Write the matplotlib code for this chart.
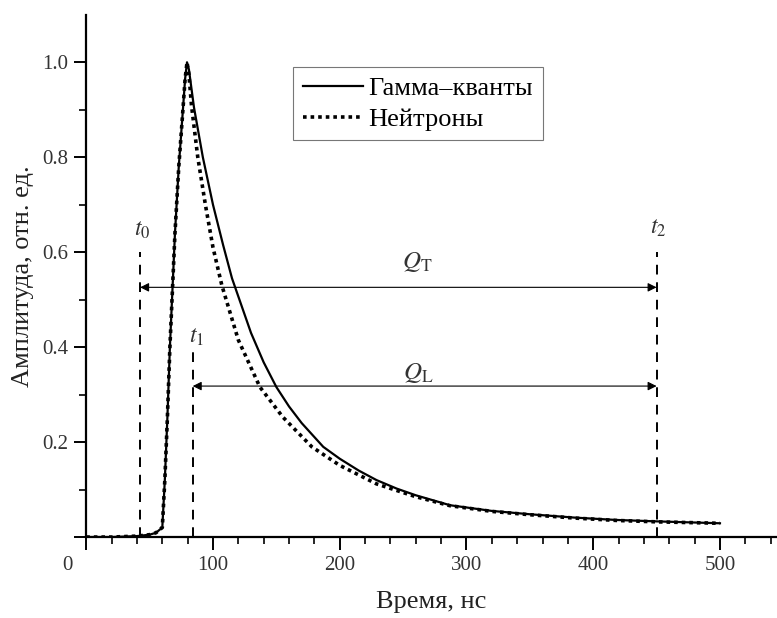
import matplotlib
matplotlib.use('Agg')
import matplotlib.pyplot as plt
import matplotlib.transforms as mtransforms
import numpy as np

plt.rcParams['font.family'] = ['Liberation Serif', 'DejaVu Serif']
plt.rcParams['mathtext.fontset'] = 'stix'

# Гамма-кванты (сплошная линия)
gamma_t = [0, 20, 40, 50, 55, 60, 62, 64, 66, 68, 70, 73, 76, 78, 79.5, 81,
           85, 92, 100, 108, 115, 130, 140, 150, 160, 170, 187, 200, 215, 229, 245, 260,
           287, 320, 350, 385, 418, 450, 500]
gamma_a = [0.0, 0.0, 0.002, 0.005, 0.009, 0.02, 0.12, 0.25, 0.40, 0.52, 0.64, 0.78, 0.89, 0.965, 1.0, 0.985,
           0.905, 0.80, 0.70, 0.615, 0.545, 0.43, 0.368, 0.316, 0.275, 0.24, 0.19, 0.165, 0.14, 0.12, 0.102, 0.088,
           0.067, 0.055, 0.048, 0.041, 0.036, 0.033, 0.029]

# Нейтроны (пунктир)
neutron_t = [0, 20, 40, 50, 55, 60, 62, 64, 66, 68, 70, 73, 76, 78, 79.5, 81,
             83, 88, 94, 100, 107, 120, 137, 155, 178, 200, 229, 260,
             287, 320, 350, 385, 418, 450, 500]
neutron_a = [0.0, 0.0, 0.002, 0.005, 0.009, 0.02, 0.12, 0.25, 0.40, 0.52, 0.64, 0.78, 0.89, 0.965, 1.0, 0.975,
             0.91, 0.80, 0.70, 0.61, 0.53, 0.415, 0.316, 0.253, 0.19, 0.151, 0.112, 0.085,
             0.066, 0.054, 0.047, 0.040, 0.035, 0.032, 0.029]

# границы интегрирования
t0, t1, t2 = 42.5, 84, 450
q_t_level, q_l_level = 0.526, 0.318

fig = plt.figure(figsize=(7.77, 6.18), dpi=100)
ax = fig.add_axes([0.111, 0.131, 0.889, 0.845])

ax.plot(gamma_t, gamma_a, color='black', lw=1.6, label='Гамма–кванты')
ax.plot(neutron_t, neutron_a, color='black', lw=2.6, linestyle=(0, (1, 1.1)),
        label='Нейтроны')

# вертикальные пунктирные линии
for tx, top in [(t0, 0.6), (t1, 0.40), (t2, 0.6)]:
    ax.plot([tx, tx], [0, top], color='black', lw=1.4, linestyle=(0, (5, 4)))

# стрелки
for start, level in [(t0, q_t_level), (t1, q_l_level)]:
    ax.annotate('', xy=(t2, level), xytext=(start, level),
                arrowprops=dict(arrowstyle='<|-|>', lw=0.8, color='black',
                                shrinkA=0, shrinkB=0, mutation_scale=13))

txt_color = '#333333'
ax.text(t0 + 2, 0.646, '$t_0$', fontsize=17, ha='center', va='center', color=txt_color)
ax.text(t1 + 3, 0.42, '$t_1$', fontsize=17, ha='center', va='center', color=txt_color)
ax.text(t2 + 1, 0.65, '$t_2$', fontsize=17, ha='center', va='center', color=txt_color)
ax.text(261, 0.58, r'$Q_\mathrm{T}$', fontsize=18, ha='center', va='center', color=txt_color)
ax.text(262, 0.345, r'$Q_\mathrm{L}$', fontsize=18, ha='center', va='center', color=txt_color)

ax.set_xlim(0, 545)
ax.set_ylim(0, 1.1)

ax.spines['top'].set_visible(False)
ax.spines['right'].set_visible(False)
for s in ['left', 'bottom']:
    ax.spines[s].set_linewidth(1.6)

ax.set_xticks([0, 100, 200, 300, 400, 500])
ax.set_xticks(np.arange(0, 545, 20), minor=True)
ax.set_yticks([0, 0.2, 0.4, 0.6, 0.8, 1.0])
ax.set_yticklabels(['', '0.2', '0.4', '0.6', '0.8', '1.0'])
ax.set_yticks(np.arange(0.1, 1.1, 0.2), minor=True)
ax.tick_params(which='major', direction='out', length=9, width=1.4,
               labelsize=15, colors='black', labelcolor='#333333')
ax.tick_params(which='minor', direction='out', length=5, width=1.2)
ax.tick_params(axis='x', pad=5)
ax.tick_params(axis='y', pad=4)

# подпись "0" сдвинута влево
lbl0 = ax.get_xticklabels()[0]
lbl0.set_transform(lbl0.get_transform() +
                   mtransforms.ScaledTranslation(-0.19, 0, fig.dpi_scale_trans))

ax.set_xlabel('Время, нс', fontsize=19, labelpad=11, color='#222222')
ax.set_ylabel('Амплитуда, отн. ед.', fontsize=19, labelpad=6, color='#222222')

leg = ax.legend(loc='upper left', bbox_to_anchor=(0.30, 0.90), borderaxespad=0,
                fontsize=19, frameon=True, fancybox=False, edgecolor='#555555',
                handlelength=2.3, handletextpad=0.2, borderpad=0.35,
                labelspacing=0.3)
leg.get_frame().set_linewidth(0.8)

fig.savefig('out.png', dpi=100)
